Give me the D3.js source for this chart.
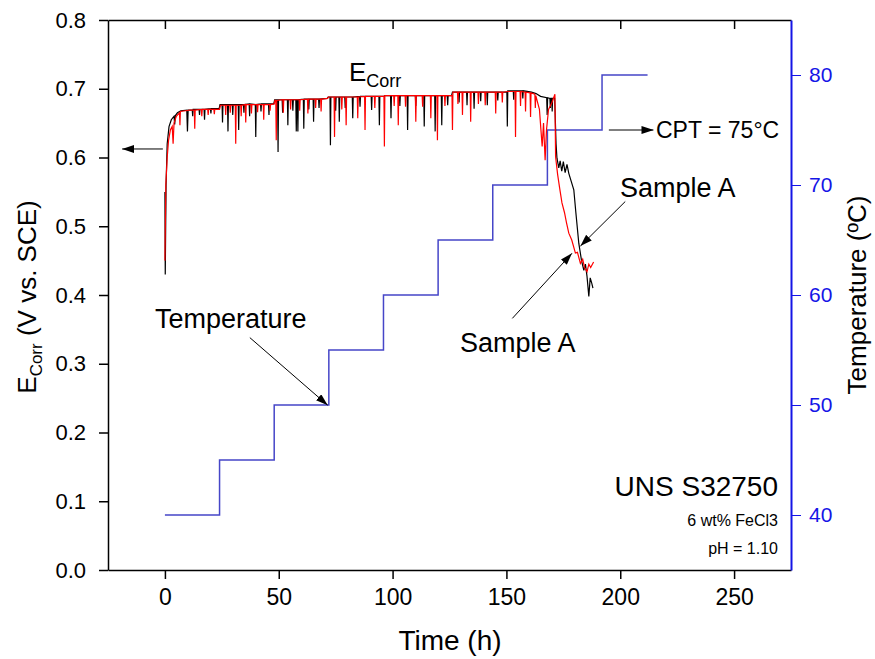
<!DOCTYPE html>
<html lang="en">
<head>
    <meta charset="UTF-8">
    <title>Ecorr and temperature vs time</title>
    <script src="https://d3js.org/d3.v7.min.js"></script>
    <style>
        body { margin: 0; background: #fff; }
        svg text { font-family: "Liberation Sans", Arial, sans-serif; }
    </style>
</head>
<body>
    <div id="chart"></div>
    <script>
        // E_corr vs time for the two runs
        const ecorrBlack = [
            [0,0.55],[0.15,0.43],[0.5,0.56],[1,0.62],[1.8,0.645],[2.8,0.655],[4,0.66],[4.3,0.648],[4.6,0.661],[5.5,0.665],[7,0.668],
            [9.6,0.669],[9.9,0.638],[10.2,0.669],[12,0.669],[12.2,0.66],[12.4,0.670],[15,0.670],[15.2,0.662],[15.4,0.670],
            [17.2,0.670],[17.4,0.655],[17.6,0.670],[20,0.671],[20.2,0.664],[20.4,0.671],[23.8,0.671],[24.2,0.677],
            [25.1,0.677],[25.3,0.651],[25.5,0.677],[27.5,0.677],[27.7,0.638],[27.9,0.677],[29.6,0.677],[29.8,0.662],[30,0.677],
            [32.2,0.677],[32.4,0.640],[32.6,0.677],[34.5,0.677],[34.7,0.665],[34.9,0.677],[37,0.678],[37.2,0.660],[37.4,0.678],
            [39.7,0.677],[39.9,0.630],[40.1,0.677],[42,0.678],[42.2,0.667],[42.4,0.678],[45.5,0.678],[45.7,0.662],[45.9,0.678],
            [47.8,0.678],[48.2,0.684],[49.5,0.684],[49.7,0.608],[49.9,0.684],[51.5,0.684],[51.7,0.665],[51.9,0.684],
            [53.8,0.684],[54,0.647],[54.2,0.684],[56,0.684],[56.2,0.668],[56.4,0.684],
            [57.5,0.684],[57.7,0.638],[57.9,0.684],[58.2,0.684],[58.4,0.638],[58.6,0.684],
            [60.8,0.685],[61,0.642],[61.2,0.685],[63,0.685],[63.2,0.670],[63.4,0.685],[65.1,0.685],[65.3,0.652],[65.5,0.685],
            [67.5,0.685],[67.7,0.672],[67.9,0.685],[71.3,0.686],[71.7,0.688],[72.5,0.688],[72.7,0.618],[72.9,0.688],
            [74.8,0.688],[75,0.668],[75.2,0.688],[76.4,0.688],[76.6,0.652],[76.8,0.688],[79,0.688],[79.2,0.672],[79.4,0.688],
            [82.3,0.688],[82.5,0.657],[82.7,0.688],[85.5,0.689],[85.7,0.674],[85.9,0.689],[90.6,0.689],[90.8,0.669],[91,0.689],
            [94,0.689],[94.2,0.647],[94.4,0.689],[96.2,0.689],[96.6,0.690],[99.1,0.690],[99.3,0.657],[99.5,0.690],
            [103,0.690],[103.2,0.675],[103.4,0.690],[106.4,0.690],[106.6,0.640],[106.8,0.690],[110,0.690],[110.2,0.675],[110.4,0.690],
            [113.7,0.690],[113.9,0.645],[114.1,0.690],[118.5,0.690],[118.7,0.638],[118.9,0.690],[121.4,0.690],[121.6,0.647],[121.8,0.690],
            [124,0.690],[124.2,0.676],[124.4,0.690],[125.9,0.690],[126.3,0.695],[129,0.695],[129.2,0.68],[129.4,0.695],
            [132.5,0.695],[132.7,0.676],[132.9,0.695],[135.6,0.695],[135.8,0.671],[136,0.695],[138.5,0.695],[138.7,0.682],[138.9,0.695],
            [141.4,0.695],[141.6,0.676],[141.8,0.695],[146,0.695],[146.2,0.683],[146.4,0.695],[150.2,0.695],[150.4,0.645],[150.6,0.697],
            [153,0.697],[153.2,0.684],[153.4,0.697],[157,0.697],[157.2,0.686],[157.4,0.697],[161,0.695],[163,0.693],[165,0.689],
            [167.7,0.687],[167.9,0.662],[168.1,0.687],[169.1,0.686],[169.3,0.672],[169.5,0.686],[169.9,0.686],[170.1,0.667],[170.3,0.686],
            [171.2,0.686],[171.8,0.62],[172.2,0.599],[173,0.585],[173.6,0.595],[174.3,0.58],[175,0.594],[175.8,0.578],[176.6,0.59],
            [177.4,0.577],[178.5,0.565],[179.6,0.553],[180.5,0.52],[181.8,0.475],[183,0.45],[184,0.436],[184.7,0.445],[185.4,0.427],
            [186.2,0.398],[186.8,0.425],[187.5,0.417],[188,0.41]
        ];
        const ecorrRed = [
            [0,0.45],[0.4,0.56],[1,0.6],[1.6,0.625],[2.4,0.64],[3.2,0.645],[3.6,0.62],[4,0.65],[5,0.66],[6.4,0.665],[6.6,0.647],[6.8,0.667],
            [9,0.668],[11,0.669],[12.9,0.669],[13.1,0.642],[13.3,0.669],[16,0.670],[16.2,0.660],[16.4,0.670],
            [18.8,0.670],[19,0.662],[19.2,0.670],[21.5,0.670],[21.7,0.663],[21.9,0.670],[24,0.670],[24.4,0.676],
            [26.5,0.676],[26.7,0.662],[26.9,0.676],[28.5,0.676],[28.7,0.665],[28.9,0.676],[30.9,0.676],[31.1,0.620],[31.3,0.676],
            [33.3,0.676],[33.5,0.660],[33.7,0.676],[35.3,0.677],[35.5,0.651],[35.7,0.677],[37.8,0.677],[38,0.664],[38.2,0.677],
            [40.5,0.677],[40.7,0.666],[40.9,0.677],[43.2,0.677],[43.4,0.655],[43.6,0.677],[46,0.677],[46.2,0.668],[46.4,0.677],
            [48,0.678],[48.3,0.683],[48.7,0.683],[48.9,0.625],[49.1,0.683],[51.8,0.684],[52,0.665],[52.2,0.684],
            [55,0.684],[55.2,0.670],[55.4,0.684],[59,0.684],[59.2,0.668],[59.4,0.684],[62.6,0.685],[62.8,0.664],[63,0.685],
            [66,0.685],[66.2,0.672],[66.4,0.685],[68.4,0.685],[68.6,0.667],[68.8,0.685],[71.5,0.686],[71.8,0.688],
            [74.3,0.688],[74.5,0.630],[74.7,0.688],[77.5,0.688],[77.7,0.670],[77.9,0.688],[79.4,0.688],[79.6,0.647],[79.8,0.688],
            [84.5,0.688],[84.7,0.657],[84.9,0.688],[87.7,0.689],[87.9,0.640],[88.1,0.689],[92,0.689],[92.2,0.672],[92.4,0.689],
            [96.2,0.689],[96.4,0.616],[96.6,0.690],[100.5,0.690],[100.7,0.675],[100.9,0.690],[102.3,0.690],[102.5,0.647],[102.7,0.690],
            [105.5,0.690],[105.7,0.674],[105.9,0.690],[110,0.690],[110.2,0.652],[110.4,0.690],[113,0.690],[113.2,0.674],[113.4,0.690],
            [116.6,0.690],[116.8,0.657],[117,0.690],[119.5,0.690],[119.7,0.625],[119.9,0.690],[122.8,0.690],[123,0.675],[123.2,0.690],
            [126.1,0.690],[126.3,0.640],[126.5,0.695],[128.5,0.695],[128.7,0.678],[128.9,0.695],[130.5,0.695],[130.7,0.662],[130.9,0.695],
            [134.1,0.695],[134.3,0.652],[134.5,0.695],[137.5,0.695],[137.7,0.678],[137.9,0.695],[140.5,0.695],[140.7,0.676],[140.9,0.695],
            [145.1,0.695],[145.3,0.664],[145.5,0.695],[148,0.695],[148.2,0.680],[148.4,0.695],[150.7,0.696],
            [153.8,0.696],[154,0.630],[154.2,0.696],[156,0.696],[156.2,0.675],[156.4,0.696],[158.2,0.695],[158.4,0.667],[158.6,0.695],
            [160.4,0.694],[160.6,0.659],[160.8,0.694],[162.5,0.692],[162.7,0.672],[162.9,0.690],
            [164.5,0.670],[165.7,0.616],[166.3,0.650],[167,0.596],[167.6,0.640],[168.5,0.670],[170,0.680],[171.3,0.692],[171.6,0.601],
            [172.5,0.575],[173.4,0.555],[174.4,0.534],[175.5,0.52],[176.4,0.505],[177.4,0.49],[178.7,0.48],
            [180.3,0.461],[181.2,0.462],[182.5,0.446],[183.5,0.452],[184.3,0.44],[185.4,0.434],[186.2,0.445],
            [187,0.44],[188.3,0.448]
        ];

        // temperature program (step after each time)
        const tempTime = [0, 24, 48, 72, 96, 120, 144, 168, 192, 212];
        const tempValue = [40, 45, 50, 55, 60, 65, 70, 75, 80, 80];

        // ticks
        const xTicks = [0, 50, 100, 150, 200, 250];
        const xMinor = [-25, 25, 75, 125, 175, 225, 275];
        const yTicks = [0, 0.1, 0.2, 0.3, 0.4, 0.5, 0.6, 0.7, 0.8];
        const yMinor = [0.05, 0.15, 0.25, 0.35, 0.45, 0.55, 0.65, 0.75];
        const tTicks = [40, 50, 60, 70, 80];
        const tMinor = [35, 45, 55, 65, 75, 85];

        const width = 875, height = 659;
        const margin = { top: 20, right: 84, bottom: 89, left: 108 };

        const svg = d3.select("#chart").append("svg")
            .attr("width", width)
            .attr("height", height);

        const x = d3.scaleLinear().domain([-25, 275]).range([margin.left, width - margin.right]);
        const y = d3.scaleLinear().domain([0, 0.8]).range([height - margin.bottom, margin.top]);
        const yT = d3.scaleLinear().domain([35, 85]).range([height - margin.bottom, margin.top]);

        const blue = "#1515e6";

        // arrow head
        svg.append("defs").append("marker")
            .attr("id", "head")
            .attr("viewBox", "0 0 12 8")
            .attr("refX", 12).attr("refY", 4)
            .attr("markerWidth", 12).attr("markerHeight", 8)
            .attr("markerUnits", "userSpaceOnUse")
            .attr("orient", "auto")
            .append("path").attr("d", "M0,0 L12,4 L0,8 Z").attr("fill", "black");

        // temperature step line
        const tempData = tempTime.map((t, i) => [t, tempValue[i]]);
        svg.append("path")
            .datum(tempData)
            .attr("fill", "none")
            .attr("stroke", "#4646c8")
            .attr("stroke-width", 1.5)
            .attr("d", d3.line().x(d => x(d[0])).y(d => yT(d[1])).curve(d3.curveStepAfter));

        const line = d3.line().x(d => x(d[0])).y(d => y(d[1]));

        svg.append("path")
            .datum(ecorrBlack)
            .attr("fill", "none")
            .attr("stroke", "black")
            .attr("stroke-width", 1.2)
            .attr("d", line);

        svg.append("path")
            .datum(ecorrRed)
            .attr("fill", "none")
            .attr("stroke", "#ff0000")
            .attr("stroke-width", 1.2)
            .attr("d", line);

        // axes
        const bottomY = height - margin.bottom;
        const gx = svg.append("g").attr("transform", "translate(0," + bottomY + ")");
        gx.call(d3.axisBottom(x).tickValues(xMinor).tickSize(4).tickFormat(""));
        gx.call(d3.axisBottom(x).tickValues(xTicks).tickSize(9).tickSizeOuter(0));
        gx.selectAll("text").style("font-size", "23px").attr("dy", "1.0em").attr("fill", "black");

        const gtop = svg.append("g").attr("transform", "translate(0," + margin.top + ")");
        gtop.call(d3.axisTop(x).tickValues(xMinor).tickSizeInner(-4).tickSizeOuter(0).tickFormat(""));
        gtop.call(d3.axisTop(x).tickValues(xTicks).tickSizeInner(-9).tickSizeOuter(0).tickFormat(""));

        const gy = svg.append("g").attr("transform", "translate(" + margin.left + ",0)");
        gy.call(d3.axisLeft(y).tickValues(yMinor).tickSize(4).tickFormat(""));
        gy.call(d3.axisLeft(y).tickValues(yTicks).tickSize(9).tickSizeOuter(0).tickFormat(d3.format(".1f")));
        gy.selectAll("text").style("font-size", "22px").attr("x", -22).attr("fill", "black");

        const gr = svg.append("g").attr("transform", "translate(" + (width - margin.right) + ",0)");
        gr.call(d3.axisRight(yT).tickValues(tMinor).tickSize(4).tickFormat(""));
        gr.call(d3.axisRight(yT).tickValues(tTicks).tickSize(10).tickSizeOuter(0));
        gr.selectAll("text").style("font-size", "21px").attr("x", 18).attr("fill", blue);
        gr.selectAll("line").attr("stroke", blue);
        gr.selectAll("path").attr("stroke", blue).attr("stroke-width", 2);

        [gx, gtop, gy].forEach(g => g.selectAll("path, line").attr("stroke", "black").attr("stroke-width", 1.5));

        // axis titles
        svg.append("text")
            .attr("x", 450).attr("y", 650)
            .attr("text-anchor", "middle")
            .style("font-size", "28px")
            .text("Time (h)");

        const yl = svg.append("text")
            .attr("transform", "translate(36,297) rotate(-90)")
            .attr("text-anchor", "middle")
            .style("font-size", "26px");
        yl.append("tspan").text("E");
        yl.append("tspan").attr("dy", 6).style("font-size", "17px").text("Corr");
        yl.append("tspan").attr("dy", -6).text(" (V vs. SCE)");

        svg.append("text")
            .attr("transform", "translate(866,295) rotate(-90)")
            .attr("text-anchor", "middle")
            .style("font-size", "26px")
            .text("Temperature (ºC)");

        // annotations
        const ec = svg.append("text").attr("x", 349).attr("y", 81).style("font-size", "26px");
        ec.append("tspan").text("E");
        ec.append("tspan").attr("dy", 6).style("font-size", "18px").text("Corr");

        function arrow(x1, y1, x2, y2) {
            svg.append("line")
                .attr("x1", x1).attr("y1", y1).attr("x2", x2).attr("y2", y2)
                .attr("stroke", "black").attr("stroke-width", 1)
                .attr("marker-end", "url(#head)");
        }
        arrow(x(-0.9), y(0.6124), x(-18.8), y(0.6124));
        arrow(x(195), yT(75), x(214.6), yT(75));
        arrow(x(202.2), y(0.536), x(182.5), y(0.4712));
        arrow(x(152.6), y(0.366), x(178.8), y(0.4607));
        arrow(x(37.3), y(0.338), x(71.5), y(0.2397));

        svg.append("text").attr("x", 656).attr("y", 138).style("font-size", "23px").text("CPT = 75°C");
        svg.append("text").attr("x", 620).attr("y", 197).style("font-size", "27px").text("Sample A");
        svg.append("text").attr("x", 460).attr("y", 352).style("font-size", "27px").text("Sample A");
        svg.append("text").attr("x", 155).attr("y", 328).style("font-size", "27px").text("Temperature");

        svg.append("text").attr("x", 778).attr("y", 496).attr("text-anchor", "end").style("font-size", "28px").text("UNS S32750");
        svg.append("text").attr("x", 778).attr("y", 526).attr("text-anchor", "end").style("font-size", "16px").text("6 wt% FeCl3");
        svg.append("text").attr("x", 778).attr("y", 554).attr("text-anchor", "end").style("font-size", "16px").text("pH = 1.10");
    </script>
</body>
</html>
